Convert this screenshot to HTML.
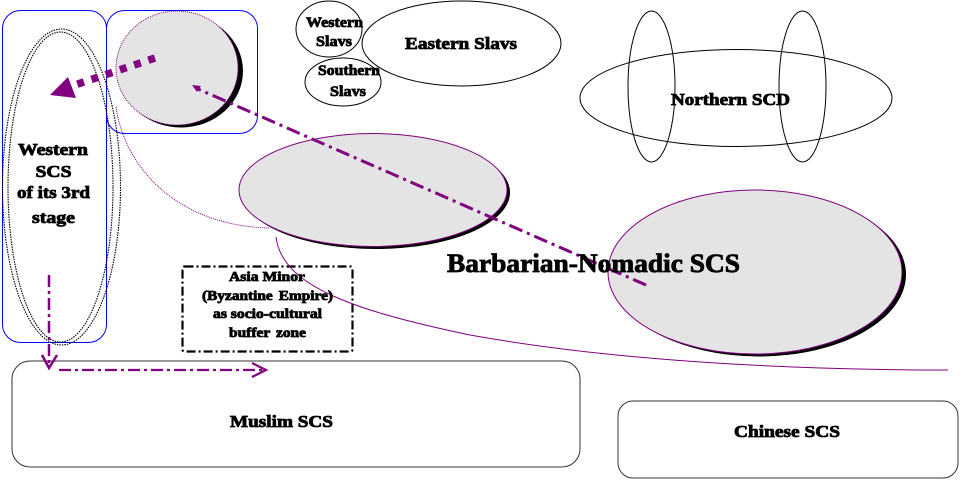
<!DOCTYPE html>
<html>
<head>
<meta charset="utf-8">
<style>
html,body{margin:0;padding:0;background:#fff}
svg{display:block}
text{font-family:"Liberation Serif",serif;font-weight:bold;fill:#000;text-anchor:middle;stroke:#000;stroke-width:.8px}
</style>
</head>
<body>
<svg width="960" height="480" viewBox="0 0 960 480" xmlns="http://www.w3.org/2000/svg">
<rect width="960" height="480" fill="#fff"/>

<!-- grey ellipses with shadows -->
<ellipse cx="181" cy="71" rx="62" ry="56.500" fill="#000"/>
<ellipse cx="177" cy="68" rx="61" ry="57" fill="#e4e4e4" stroke="#800080" stroke-width="1" stroke-dasharray="1 1"/>
<ellipse cx="376" cy="192.500" rx="134" ry="56.500" fill="#000"/>
<ellipse cx="373" cy="190" rx="134" ry="56.500" fill="#e4e4e4" stroke="#800080" stroke-width="1"/>
<ellipse cx="759" cy="274.500" rx="147" ry="82" fill="#000"/>
<ellipse cx="755" cy="272" rx="147" ry="82" fill="#e4e4e4" stroke="#800080" stroke-width="1"/>

<!-- blue rounded boxes -->
<rect x="2.500" y="10.500" width="104" height="332" rx="18" fill="none" stroke="#0000ff" stroke-width="1"/>
<rect x="106.500" y="10.500" width="151" height="123" rx="18" fill="none" stroke="#0000ff" stroke-width="1"/>

<!-- dotted ellipses -->
<ellipse cx="61.500" cy="187" rx="59" ry="158" fill="none" stroke="#000" stroke-width="1.100" stroke-dasharray="1.500 1"/>
<ellipse cx="60.500" cy="187" rx="52.500" ry="155" fill="none" stroke="#000" stroke-width="1.100" stroke-dasharray="1.500 1"/>

<!-- Slavs -->
<ellipse cx="329" cy="29" rx="33" ry="28" fill="none" stroke="#000" stroke-width="1"/>
<ellipse cx="343" cy="82" rx="38" ry="24" fill="none" stroke="#000" stroke-width="1"/>
<ellipse cx="461.500" cy="43.500" rx="99.500" ry="42.500" fill="#fff" stroke="#000" stroke-width="1"/>

<!-- Northern -->
<ellipse cx="736" cy="98" rx="156" ry="48.500" fill="none" stroke="#000" stroke-width="1"/>
<ellipse cx="651.500" cy="86.500" rx="23.500" ry="75.500" fill="none" stroke="#000" stroke-width="1"/>
<ellipse cx="802.500" cy="86.500" rx="23.500" ry="75.500" fill="none" stroke="#000" stroke-width="1"/>

<!-- lower boxes -->
<rect x="12" y="361" width="568" height="106" rx="18" fill="none" stroke="#333" stroke-width="1"/>
<rect x="618" y="401" width="340" height="77" rx="15" fill="none" stroke="#333" stroke-width="1"/>
<rect x="182.500" y="266.500" width="170" height="85" rx="2" fill="none" stroke="#000" stroke-width="2.200" stroke-dasharray="9 3 2 3"/>

<!-- curves -->
<path d="M116 107 C124 165 175 226 270 228" fill="none" stroke="#800080" stroke-width="1" stroke-dasharray="1 1"/>
<path d="M276 237 C282 285 350 310 470 335 C620 362 800 370 948 370" fill="none" stroke="#800080" stroke-width="1"/>

<!-- arrows -->
<path d="M155 58 L72 86" fill="none" stroke="#800080" stroke-width="7.500" stroke-dasharray="7 8"/>
<path d="M50 95 L68 77 L76 98 Z" fill="#800080"/>
<path d="M646 285 L198 89" fill="none" stroke="#800080" stroke-width="3" stroke-dasharray="14 5 3 5"/>
<path d="M192 85 L201 86 L197 92 Z" fill="#800080"/>
<path d="M49 275 L49 368" fill="none" stroke="#800080" stroke-width="2.500" stroke-dasharray="12 4 3 4"/>
<path d="M42 355 L49 368 L57 355" fill="none" stroke="#800080" stroke-width="2.500"/>
<path d="M59 370 L264 370" fill="none" stroke="#800080" stroke-width="2.200" stroke-dasharray="12 4 3 4"/>
<path d="M252 363 L266 370 L252 377" fill="none" stroke="#800080" stroke-width="2.200"/>

<!-- labels -->
<text x="53" y="155" font-size="17" textLength="70" lengthAdjust="spacingAndGlyphs">Western</text>
<text x="53.500" y="177" font-size="17" textLength="36" lengthAdjust="spacingAndGlyphs">SCS</text>
<text x="53.500" y="198" font-size="17" textLength="73" lengthAdjust="spacingAndGlyphs">of its 3rd</text>
<text x="53.500" y="223" font-size="17" textLength="43" lengthAdjust="spacingAndGlyphs">stage</text>

<text x="334.500" y="27" font-size="15" textLength="57" lengthAdjust="spacingAndGlyphs">Western</text>
<text x="334" y="46" font-size="15" textLength="36" lengthAdjust="spacingAndGlyphs">Slavs</text>
<text x="349" y="75" font-size="15" textLength="62" lengthAdjust="spacingAndGlyphs">Southern</text>
<text x="348" y="96" font-size="15" textLength="36" lengthAdjust="spacingAndGlyphs">Slavs</text>
<text x="461" y="49" font-size="17" textLength="112" lengthAdjust="spacingAndGlyphs">Eastern Slavs</text>
<text x="730.500" y="105" font-size="17" textLength="119" lengthAdjust="spacingAndGlyphs">Northern SCD</text>
<text x="593.500" y="272" font-size="26" textLength="293" lengthAdjust="spacingAndGlyphs">Barbarian-Nomadic SCS</text>

<text x="267" y="281" font-size="14" textLength="76" lengthAdjust="spacingAndGlyphs">Asia Minor</text>
<text x="267.500" y="300" font-size="14" word-spacing="2" textLength="131" lengthAdjust="spacingAndGlyphs">(Byzantine Empire)</text>
<text x="267.500" y="318" font-size="14" textLength="109" lengthAdjust="spacingAndGlyphs">as socio-cultural</text>
<text x="267.500" y="337" font-size="14" word-spacing="2" textLength="77" lengthAdjust="spacingAndGlyphs">buffer zone</text>

<text x="281.500" y="427" font-size="17" textLength="103" lengthAdjust="spacingAndGlyphs">Muslim SCS</text>
<text x="787" y="437" font-size="17" textLength="106" lengthAdjust="spacingAndGlyphs">Chinese SCS</text>
</svg>
</body>
</html>
